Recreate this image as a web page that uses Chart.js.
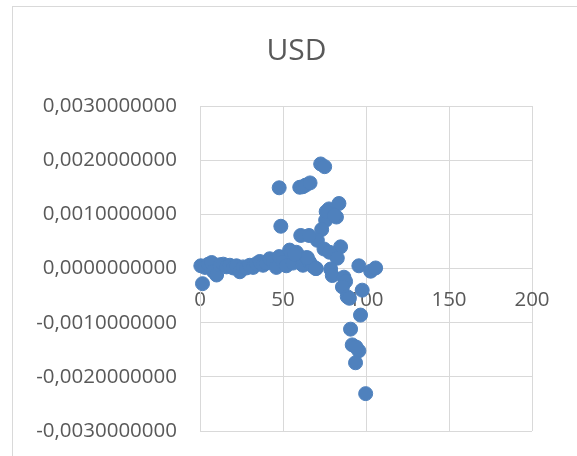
<!DOCTYPE html>
<html>
<head>
<meta charset="utf-8">
<script src="https://cdn.jsdelivr.net/npm/chart.js@4"></script>
<style>
  html, body { margin: 0; padding: 0; background: #fff; overflow: hidden; }
  #wrap { position: relative; width: 577px; height: 456px; }
</style>
</head>
<body>
<div id="wrap"><canvas id="chart"></canvas></div>
<script>
'use strict';

const title = 'USD';

// x/y pairs
const xValues = [
    0.5, 1.5, 3, 5, 7, 8, 10, 12, 14, 16, 18, 20, 22, 24, 26, 28, 30, 32, 34, 36,
    38, 40, 42, 44, 46, 47.7, 50, 52, 54, 56, 58, 60, 62, 64, 66, 68, 70,
    47.7, 48.7, 60.1, 62, 63.7, 66.3, 72.7, 75.1, 77.7, 83.7, 82.2, 80, 75.7, 73.3,
    70.7, 60.7, 65.7, 84.7, 74.7, 78, 82.7, 64.7, 69.7, 78.7, 79.7, 86.7, 87.7, 85.8,
    88.7, 90, 95.7, 97.7, 102.8, 105.8, 96.7, 90.7, 91.7, 95.7, 93.7, 99.8, 94,
    55, 57, 76, 81
];
const yValues = [
    0.00005, -0.00028, 0.00002, 0.00008, 0.00011, -0.00005, -0.00012, 0.00007, 0.00008, 0.00003,
    0.00006, 0.00001, 0.00005, -0.00006, 0.00003, 0.00001, 0.00006, 0.00002, 0.00009, 0.00013,
    0.00006, 0.00010, 0.00018, 0.00012, 0.00002, 0.00022, 0.00012, 0.00005, 0.00034, 0.00010,
    0.00030, 0.00022, 0.00006, 0.00020, 0.00012, 0.00004, 0.00000,
    0.00149, 0.00078, 0.00150, 0.00151, 0.00154, 0.00158, 0.00193, 0.00188, 0.00110, 0.00120,
    0.00095, 0.00100, 0.00089, 0.00072, 0.00052, 0.00061, 0.00061, 0.00040, 0.00036, 0.00030,
    0.00019, 0.00020, 0.00000, -0.00001, -0.00013, -0.00016, -0.00024, -0.00034,
    -0.00052, -0.00055, 0.00005, -0.00040, -0.00005, 0.00001, -0.00086, -0.00112, -0.00141,
    -0.00152, -0.00174, -0.00231, -0.00145,
    0.00030, 0.00026, 0.00105, 0.00098
];

const xMin = 0, xMax = 200, xStep = 50;
const yMin = -0.003, yMax = 0.003, yStep = 0.001;

const points = xValues.map((x, i) => ({ x: x, y: yValues[i] }));

const GRID = '#d9d9d9';
const TEXT = '#595959';
const FONT = "'Open Sans', sans-serif";

// light frame round the whole chart and the title, centred like the spreadsheet one
const frame = {
    id: 'frame',
    beforeDraw(c) {
        const ctx = c.ctx;
        ctx.save();
        ctx.strokeStyle = GRID;
        ctx.lineWidth = 1;
        ctx.strokeRect(12.5, 6.5, 700, 700);
        ctx.fillStyle = TEXT;
        ctx.font = '30px ' + FONT;
        ctx.textAlign = 'center';
        ctx.textBaseline = 'middle';
        ctx.fillText(title, 296.5, 51);
        ctx.restore();
    }
};

function fmt(v) {
    const r = Math.round(v * 1e6) / 1e6;
    if (r === 0) return '0,0000000000';
    return r.toFixed(10).replace('.', ',');
}

new Chart(document.getElementById('chart').getContext('2d'), {
    type: 'scatter',
    data: { datasets: [{ data: points, pointRadius: 7, pointBorderWidth: 1,
                         pointBackgroundColor: '#4F81BD', pointBorderColor: '#4F81BD',
                         clip: false }] },
    plugins: [frame],
    options: {
        animation: false,
        responsive: true,
        maintainAspectRatio: false,
        layout: { padding: { left: 20, right: 45, top: 106, bottom: 25 } },
        plugins: {
            legend: { display: false },
            tooltip: { enabled: false },
            title: { display: false }
        },
        scales: {
            x: { type: 'linear', min: xMin, max: xMax, position: { y: 0 },
                 ticks: { stepSize: xStep, color: TEXT, padding: 19,
                          font: { family: FONT, size: 20.5 } },
                 grid: { color: GRID, drawTicks: false },
                 border: { color: GRID },
                 afterFit: (s) => { s.height = 0; } },
            y: { type: 'linear', min: yMin, max: yMax,
                 ticks: { stepSize: yStep, color: TEXT, padding: 23,
                          font: { family: FONT, size: 20.5 }, callback: fmt },
                 grid: { color: GRID, drawTicks: false },
                 border: { color: GRID },
                 // fixed width; the edge labels may hang into the margins
                 afterFit: (s) => { s.width = 180; s.paddingTop = 0; s.paddingBottom = 0; } }
        }
    }
});
</script>
</body>
</html>
